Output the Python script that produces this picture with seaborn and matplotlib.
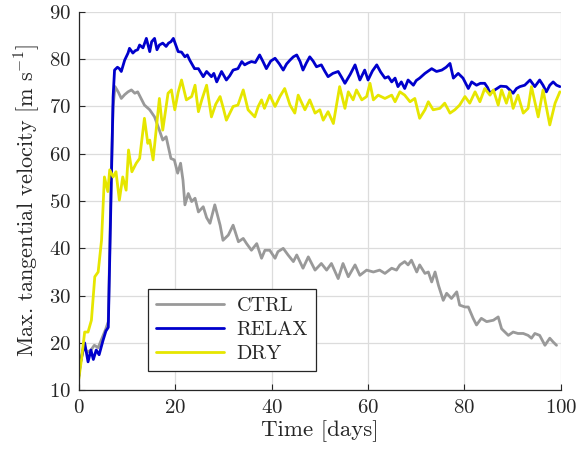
import matplotlib
matplotlib.use("Agg")
import matplotlib.pyplot as plt
import seaborn as sns
import pandas as pd

# ---- data ----
ctrl_t = [0, 0.3, 1.0, 1.7, 2.5, 3.2, 4.0, 4.8, 5.6, 6.1, 6.7, 7.1, 7.5, 8.2, 8.8, 9.5, 10.2, 10.9, 11.6, 12.2,
          13.0, 13.6, 14.7, 15.7, 16.7, 17.4, 18.1, 19.1, 19.8, 20.5, 21.1, 21.6, 22.0, 22.7, 23.4, 24.1, 24.8,
          25.8, 26.5, 27.2, 28.2, 29.3, 29.9, 31.0, 32.0, 33.1, 34.1, 34.8, 35.8, 36.9, 37.9, 38.6, 39.6, 40.7,
          41.3, 42.4, 43.4, 44.5, 45.2, 46.5, 47.6, 49.0, 50.3, 51.4, 52.4, 53.8, 54.8, 55.9, 57.3, 58.3, 59.7,
          61.1, 62.4, 63.5, 64.9, 65.9, 66.6, 67.6, 68.3, 69.0, 70.1, 70.7, 71.8, 72.5, 73.2, 73.9, 74.6, 75.6,
          76.3, 77.3, 78.4, 79.0, 80.1, 80.8, 81.8, 82.5, 83.5, 84.6, 86.0, 87.0, 87.7, 89.1, 90.1, 91.1, 92.2,
          93.2, 93.9, 94.6, 95.6, 96.7, 97.7, 98.4, 99.1]
ctrl_v = [13.5, 15.7, 19.5, 18.0, 18.5, 19.5, 19.0, 21.0, 23.0, 24.5, 55.0, 70.0, 74.2, 73.0, 71.7, 72.5, 73.1,
          73.5, 72.8, 73.1, 71.5, 70.3, 69.3, 67.8, 65.0, 62.9, 63.6, 59.0, 58.7, 55.9, 58.0, 54.4, 49.2, 51.6,
          49.9, 50.6, 47.7, 48.8, 46.5, 45.3, 49.2, 44.9, 41.7, 42.8, 44.9, 41.4, 42.1, 41.0, 39.6, 41.0, 37.9,
          39.6, 39.6, 37.9, 39.3, 40.0, 38.6, 37.2, 38.6, 35.8, 38.2, 35.4, 36.8, 35.4, 36.8, 33.6, 36.8, 34.0,
          36.5, 34.3, 35.4, 35.0, 35.4, 34.7, 35.8, 35.4, 36.5, 37.2, 36.5, 37.5, 35.0, 36.5, 34.7, 35.0, 32.9,
          35.0, 32.2, 29.0, 30.5, 29.4, 30.8, 28.0, 27.6, 27.6, 25.2, 23.8, 25.2, 24.5, 24.8, 25.5, 23.0, 21.6,
          22.3, 22.0, 22.0, 21.6, 21.0, 22.0, 21.6, 19.5, 21.0, 20.2, 19.5]

relax_t = [0, 0.3, 1.2, 1.9, 2.5, 3.0, 3.6, 4.2, 5.0, 5.6, 6.1, 6.7, 7.1, 7.4, 8.0, 8.4, 8.8, 9.5, 10.2, 10.5,
           11.2, 11.7, 12.2, 12.6, 13.3, 14.0, 14.7, 15.1, 15.7, 16.2, 16.7, 17.4, 18.1, 18.6, 19.1, 19.6, 20.0,
           20.6, 21.3, 22.0, 22.5, 23.0, 24.0, 24.8, 25.8, 26.5, 27.5, 28.0, 28.6, 29.6, 30.6, 31.3, 32.0, 33.0,
           33.8, 34.4, 35.1, 35.8, 36.6, 37.5, 38.2, 38.9, 39.8, 40.7, 41.6, 42.4, 43.1, 43.8, 44.5, 45.2, 45.9,
           46.5, 47.2, 47.9, 48.6, 49.3, 50.3, 51.0, 51.7, 52.7, 53.8, 54.5, 55.2, 56.3, 57.3, 58.3, 59.3, 60.0,
           60.9, 61.8, 62.6, 63.5, 64.2, 64.9, 65.6, 66.2, 66.9, 67.6, 68.3, 69.4, 70.0, 70.7, 71.8, 72.5, 73.2,
           74.2, 75.3, 76.2, 77.0, 77.7, 78.7, 79.7, 80.8, 81.5, 82.5, 83.3, 84.2, 84.8, 85.3, 86.3, 87.5, 88.7,
           89.4, 90.1, 90.8, 91.5, 92.5, 93.6, 94.6, 95.6, 96.3, 97.0, 97.7, 98.4, 99.1, 99.8]
relax_v = [13.0, 15.7, 20.0, 16.0, 18.5, 16.5, 18.5, 17.5, 20.5, 22.5, 23.3, 52.0, 72.0, 77.7, 78.3, 78.0, 77.4,
           79.8, 81.3, 82.3, 81.3, 81.8, 82.0, 83.0, 82.4, 84.4, 81.6, 83.7, 84.4, 82.0, 83.0, 83.4, 82.7, 83.4,
           83.7, 84.4, 83.3, 81.6, 81.5, 80.5, 80.9, 79.8, 78.0, 78.0, 76.3, 77.4, 76.3, 77.0, 75.2, 77.4, 75.6,
           76.5, 77.7, 78.0, 79.5, 78.8, 79.2, 79.5, 79.3, 80.9, 79.5, 78.0, 79.6, 80.2, 79.0, 77.7, 79.0, 79.8,
           80.5, 80.9, 79.5, 77.7, 79.2, 80.5, 79.6, 78.4, 78.8, 77.5, 76.3, 77.0, 77.4, 76.2, 74.9, 76.8, 78.8,
           75.6, 77.7, 75.6, 77.5, 78.8, 77.3, 76.0, 76.3, 75.2, 76.0, 74.2, 75.2, 73.8, 75.6, 74.5, 75.5, 76.0,
           77.0, 77.5, 78.0, 77.4, 77.7, 78.3, 79.1, 76.0, 77.0, 76.0, 73.8, 75.2, 74.5, 74.9, 74.9, 74.0, 72.8,
           73.5, 74.3, 74.2, 73.5, 72.8, 73.8, 74.2, 74.5, 75.6, 74.2, 75.6, 74.5, 73.1, 74.5, 75.2, 74.5, 74.2]

dry_t = [0, 0.6, 1.2, 1.9, 2.6, 3.3, 4.0, 4.7, 5.3, 6.0, 6.4, 7.1, 7.7, 8.4, 9.1, 9.8, 10.3, 11.0, 11.9, 12.6,
         13.6, 14.3, 14.7, 15.4, 16.7, 17.4, 18.5, 19.2, 19.9, 20.6, 21.3, 22.3, 23.4, 24.1, 24.8, 25.5, 26.5,
         27.5, 28.4, 29.3, 30.0, 30.6, 32.0, 33.0, 34.1, 35.1, 36.5, 37.2, 37.9, 38.5, 39.6, 40.7, 41.7, 42.7,
         43.8, 44.8, 45.5, 46.9, 47.9, 49.0, 50.0, 50.7, 51.7, 52.8, 54.1, 55.2, 55.9, 56.9, 57.6, 58.7, 59.7,
         60.4, 61.1, 62.1, 63.5, 64.9, 65.6, 66.6, 67.6, 68.7, 69.7, 70.7, 71.8, 72.5, 73.5, 74.9, 75.9, 77.0,
         78.0, 79.0, 80.1, 81.1, 82.2, 83.2, 84.2, 85.3, 86.0, 87.0, 87.7, 88.7, 89.4, 90.1, 91.1, 92.2, 93.2,
         93.9, 95.3, 96.3, 97.7, 98.8, 99.8]
dry_v = [12.5, 17.0, 22.3, 22.3, 24.8, 34.0, 35.0, 41.7, 55.1, 52.0, 56.6, 55.1, 56.2, 50.2, 55.1, 52.3, 60.8,
         56.2, 58.0, 59.0, 67.5, 62.2, 62.9, 58.7, 71.7, 65.0, 72.8, 73.5, 69.3, 73.0, 75.6, 71.4, 72.1, 74.5,
         68.9, 71.4, 74.5, 67.8, 70.5, 72.1, 69.5, 67.1, 70.0, 70.3, 73.5, 69.3, 67.8, 70.0, 71.4, 69.6, 72.4,
         70.0, 72.1, 73.8, 70.3, 68.6, 72.4, 69.3, 71.4, 68.6, 69.3, 67.1, 68.9, 66.4, 74.2, 69.6, 73.1, 71.4,
         73.5, 71.4, 72.1, 74.9, 71.4, 72.4, 71.7, 72.4, 71.0, 73.1, 72.4, 71.0, 71.7, 67.5, 69.3, 71.0, 69.3,
         69.6, 70.7, 68.6, 69.3, 70.3, 72.1, 70.7, 73.1, 71.0, 73.8, 72.4, 73.5, 70.3, 73.5, 70.7, 73.1, 69.6,
         72.4, 68.6, 69.6, 74.2, 67.8, 73.5, 66.1, 70.7, 73.1]

labels = ["CTRL", "RELAX", "DRY"]
colors = ["#999999", "#0000CC", "#E6E600"]
x_ticks = [0, 20, 40, 60, 80, 100]
y_ticks = [10, 20, 30, 40, 50, 60, 70, 80, 90]

frames = []
for lab, t, v in zip(labels, [ctrl_t, relax_t, dry_t], [ctrl_v, relax_v, dry_v]):
    frames.append(pd.DataFrame({"t": t, "v": v, "exp": lab}))
df = pd.concat(frames, ignore_index=True)

# ---- style ----
sns.set_theme(style="ticks")
plt.rcParams["font.family"] = ["serif"]
plt.rcParams["font.serif"] = ["cmr10", "DejaVu Serif"]
plt.rcParams["mathtext.fontset"] = "cm"
plt.rcParams["axes.formatter.use_mathtext"] = True

fig = plt.figure(figsize=(5.8, 4.58), dpi=100)
ax = fig.add_axes([0.136, 0.148, 0.831, 0.826])

sns.lineplot(data=df, x="t", y="v", hue="exp", hue_order=labels, palette=colors,
             sort=False, estimator=None, linewidth=2.0, ax=ax)

ax.set_xlim(0, 100)
ax.set_ylim(10, 90)
ax.set_xticks(x_ticks)
ax.set_yticks(y_ticks)
ax.grid(True, color="#dcdcdc", linewidth=0.9)
ax.set_axisbelow(True)
for s in ["top", "right"]:
    ax.spines[s].set_visible(False)
for s in ["left", "bottom"]:
    ax.spines[s].set_color("#262626")
    ax.spines[s].set_linewidth(0.9)
ax.tick_params(direction="in", length=4, width=0.8, color="#262626",
               labelsize=15, labelcolor="#262626", pad=6)
ax.set_xlabel("Time [days]", fontsize=16.5, color="#262626", labelpad=3)
ax.set_ylabel(r"Max. tangential velocity [m s$^{-1}$]", fontsize=16, color="#262626", labelpad=5)

leg = ax.legend(loc="lower left", bbox_to_anchor=(0.143, 0.05), fontsize=14.5,
                frameon=True, fancybox=False, framealpha=1, edgecolor="#262626",
                handlelength=3.4, handletextpad=0.6, labelspacing=0.3, borderpad=0.4,
                borderaxespad=0)
leg.get_frame().set_linewidth(0.9)
for line in leg.get_lines():
    line.set_linewidth(2.0)
for txt in leg.get_texts():
    txt.set_color("#262626")

fig.savefig("out.png", dpi=100)
